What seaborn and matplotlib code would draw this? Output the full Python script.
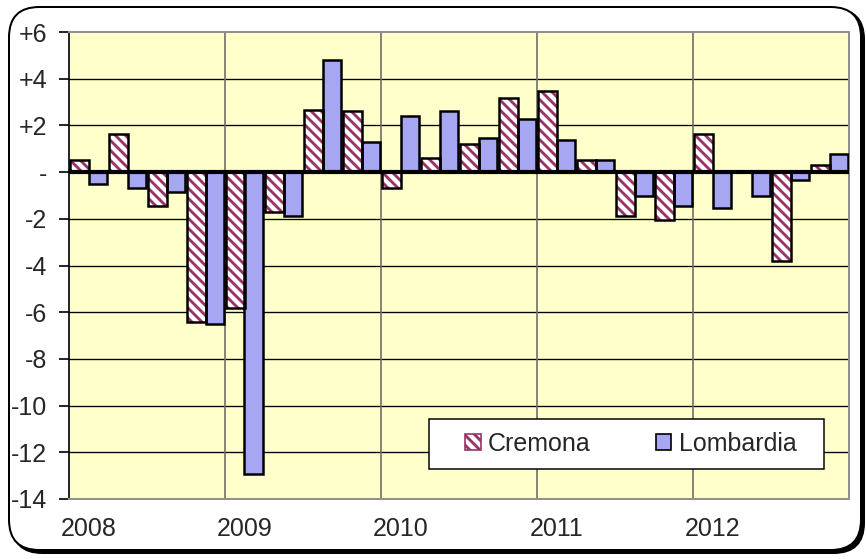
import numpy as np
import pandas as pd
import matplotlib
matplotlib.use("Agg")
import matplotlib.pyplot as plt
import seaborn as sns
from matplotlib.patches import FancyBboxPatch, Rectangle

years = ["2008", "2009", "2010", "2011", "2012"]
quarters = [f"{y}Q{q}" for y in years for q in range(1, 5)]
cremona = [0.53, 1.64, -1.46, -6.41, -5.82, -1.69, 2.67, 2.60, -0.69, 0.61,
           1.21, 3.18, 3.46, 0.53, -1.87, -2.07, 1.64, 0.0, -3.82, 0.30]
lombardia = [-0.49, -0.67, -0.84, -6.50, -12.91, -1.87, 4.81, 1.30, 2.41, 2.60,
             1.47, 2.26, 1.38, 0.53, -1.01, -1.44, -1.54, -1.03, -0.34, 0.77]
series = ["Cremona", "Lombardia"]
yticks = [6, 4, 2, 0, -2, -4, -6, -8, -10, -12, -14]
ytick_labels = ["+6", "+4", "+2", "-", "-2", "-4", "-6", "-8", "-10", "-12", "-14"]

df = pd.DataFrame({
    "quarter": quarters * 2,
    "value": cremona + lombardia,
    "series": [series[0]] * len(quarters) + [series[1]] * len(quarters),
})

MAROON = "#993366"
HATCH = "\\" * 4
sns.set_style("white")
plt.rcParams["font.family"] = ["Liberation Sans", "DejaVu Sans"]
plt.rcParams["hatch.color"] = MAROON
plt.rcParams["hatch.linewidth"] = 1.7

DPI = 120
fig = plt.figure(figsize=(866 / DPI, 559 / DPI), dpi=DPI)
fig.patch.set_facecolor("white")

# rounded frame with shadow
shadow = FancyBboxPatch((12 / 866, 6 / 559), 852 / 866, 544 / 559,
                        boxstyle="round,pad=0,rounding_size=0.035",
                        transform=fig.transFigure, facecolor="black",
                        edgecolor="black", linewidth=1.2, zorder=0,
                        mutation_aspect=866 / 559)
frame = FancyBboxPatch((9 / 866, 9 / 559), 852 / 866, 543 / 559,
                       boxstyle="round,pad=0,rounding_size=0.035",
                       transform=fig.transFigure, facecolor="white",
                       edgecolor="black", linewidth=1.2, zorder=0.5,
                       mutation_aspect=866 / 559)
fig.add_artist(shadow)
fig.add_artist(frame)

ax = fig.add_axes([69 / 866, 1 - 499 / 559, 780 / 866, 467 / 559])
ax.set_facecolor("#FFFFCC")
ax.set_zorder(2)

sns.barplot(data=df, x="quarter", y="value", hue="series", order=quarters,
            hue_order=series, palette=["white", "#9999FF"], width=0.97,
            edgecolor="black", linewidth=1.5, ax=ax, legend=True, zorder=3)

n = len(quarters)
for p in list(ax.patches[:n]):
    p.set_hatch(HATCH)
    p.set_facecolor("white")
    p.set_edgecolor(MAROON)
    p.set_linewidth(0)
    outline = Rectangle(p.get_xy(), p.get_width(), p.get_height(),
                        fill=False, edgecolor="black", linewidth=1.5,
                        zorder=3.5)
    ax.add_patch(outline)

ax.set_xlim(-0.5, n - 0.5)
ax.set_ylim(-14, 6)
ax.set_yticks(yticks)
ax.set_yticklabels(ytick_labels, fontsize=15)
ax.set_xticks([0, 4, 8, 12, 16])
ax.set_xticklabels(years, fontsize=15)
ax.set_xlabel("")
ax.set_ylabel("")

for y in yticks:
    if y != 0 and y not in (6, -14):
        ax.axhline(y, color="black", linewidth=0.8, zorder=1)
for xv in [3.5, 7.5, 11.5, 15.5]:
    ax.axvline(xv, color="#707060", linewidth=1.0, zorder=1)
ax.axhline(0, color="black", linewidth=2.5, zorder=4)

for s in ["top", "right", "bottom"]:
    ax.spines[s].set_color("#909090")
    ax.spines[s].set_linewidth(1.2)
ax.spines["left"].set_color("black")
ax.spines["left"].set_linewidth(1.0)
ax.tick_params(axis="y", length=6, width=1, color="black", direction="out",
               left=True, pad=7)
ax.tick_params(axis="x", length=0, pad=11)

# legend box
box = Rectangle((0.4615, 0.064), 0.5065, 0.107, transform=ax.transAxes,
                facecolor="white", edgecolor="black", linewidth=0.9,
                zorder=9)
ax.add_patch(box)

handles, labels = ax.get_legend_handles_labels()
leg = ax.legend(handles, labels, loc="center",
                bbox_to_anchor=(0.7205, 0.1178),
                ncol=2, fontsize=15, frameon=False,
                handlelength=0.62, handleheight=0.62, handletextpad=0.3,
                borderaxespad=0, columnspacing=2.6, borderpad=0.0)
leg.set_zorder(10)
for i, h in enumerate(leg.legend_handles):
    if i == 0:
        h.set_hatch(HATCH)
        h.set_facecolor("white")
        h.set_edgecolor(MAROON)
        h.set_linewidth(1.0)
    else:
        h.set_edgecolor("black")
        h.set_linewidth(1.0)

fig.savefig("out.png", dpi=DPI)
